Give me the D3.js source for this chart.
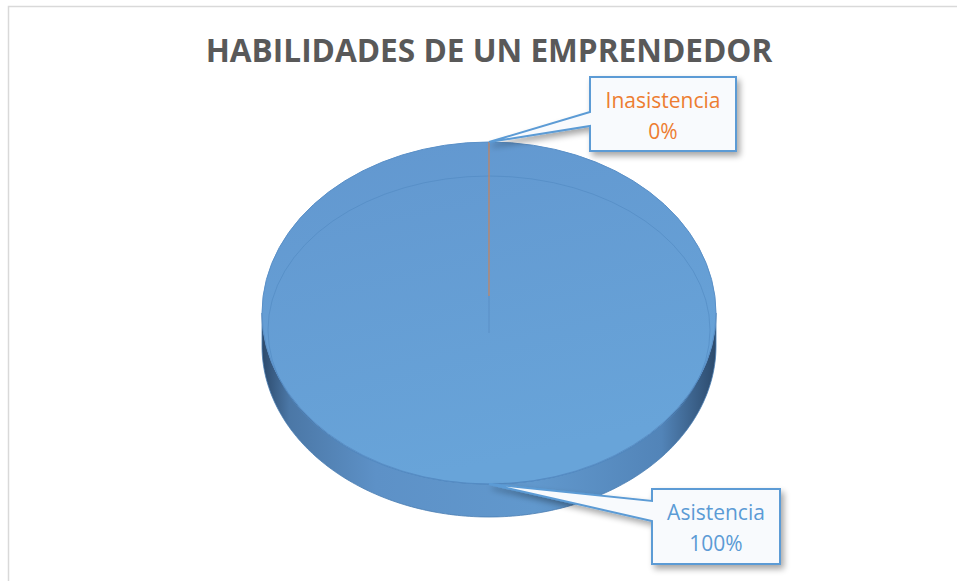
<!DOCTYPE html>
<html>
<head>
<meta charset="utf-8">
<script src="https://cdn.jsdelivr.net/npm/d3@7"></script>
<style>
  body { margin: 0; background: #fff; }
  svg { display: block; }
</style>
</head>
<body>
<div id="chart"></div>
<script>
// data
const categories = ["Asistencia", "Inasistencia"]
const values = [100, 0]
const percentLabels = ["100%", "0%"]
const chartTitle = "HABILIDADES DE UN EMPRENDEDOR"

const width = 957
const height = 581

// pie geometry (projected ellipse)
const cx = 489, cy = 313, rx = 227, ry = 171, depth = 33

var svg = d3.select("#chart")
  .append("svg")
  .attr("width", width)
  .attr("height", height)

var defs = svg.append("defs")

var topGrad = defs.append("linearGradient")
  .attr("id", "topGrad").attr("x1", 0).attr("y1", 0).attr("x2", 0.3).attr("y2", 1)
topGrad.append("stop").attr("offset", "0%").attr("stop-color", "#6297cf")
topGrad.append("stop").attr("offset", "100%").attr("stop-color", "#68a4d9")

var sideGrad = defs.append("linearGradient")
  .attr("id", "sideGrad").attr("gradientUnits", "userSpaceOnUse")
  .attr("x1", cx - rx).attr("y1", 0).attr("x2", cx + rx).attr("y2", 0)
sideGrad.append("stop").attr("offset", "0%").attr("stop-color", "#2c4a6c")
sideGrad.append("stop").attr("offset", "6%").attr("stop-color", "#4b77a6")
sideGrad.append("stop").attr("offset", "25%").attr("stop-color", "#5d91c7")
sideGrad.append("stop").attr("offset", "60%").attr("stop-color", "#6198cd")
sideGrad.append("stop").attr("offset", "88%").attr("stop-color", "#5284b8")
sideGrad.append("stop").attr("offset", "100%").attr("stop-color", "#2c4a6c")

var shadow = defs.append("filter").attr("id", "shadow")
  .attr("x", "-20%").attr("y", "-20%").attr("width", "150%").attr("height", "160%")
shadow.append("feGaussianBlur").attr("in", "SourceAlpha").attr("stdDeviation", 3)
shadow.append("feOffset").attr("dx", 3).attr("dy", 4).attr("result", "off")
shadow.append("feComponentTransfer").append("feFuncA").attr("type", "linear").attr("slope", 0.35)
var merge = shadow.append("feMerge")
merge.append("feMergeNode")
merge.append("feMergeNode").attr("in", "SourceGraphic")

// chart area border
svg.append("rect")
  .attr("x", 8.5).attr("y", 6.5)
  .attr("width", width).attr("height", height)
  .attr("fill", "#fff")
  .attr("stroke", "#d9d9d9")
  .attr("stroke-width", 1.5)

// title
var title = svg.append("text")
  .attr("x", cx).attr("y", 62)
  .attr("text-anchor", "middle")
  .attr("font-family", "'Open Sans', sans-serif")
  .attr("font-weight", "bold")
  .attr("font-size", 30)
  .attr("fill", "#595959")
  .text(chartTitle)
var tw = title.node().getComputedTextLength()
title.attr("font-size", 30 * 567 / tw)

// angle -> point on the projected ellipse
function pt(a, r = 1, dy = 0) {
  return [cx + rx * r * Math.sin(a), cy - ry * r * Math.cos(a) + dy]
}

var pie = d3.pie().sort(null).value(d => d)
var arcs = pie(values)

// side wall (front half)
var sidePts = d3.range(0, 181).map(i => pt(Math.PI * 1.5 - i * Math.PI / 180))
var sidePtsLow = sidePts.map(p => [p[0], p[1] + depth]).reverse()
svg.append("path")
  .attr("d", d3.line()(sidePts.concat(sidePtsLow)) + "Z")
  .attr("fill", "url(#sideGrad)")
  .attr("stroke", "#4a7db3")
  .attr("stroke-width", 0.8)

// top face slices
var topArc = a0 => a1 => {
  var n = Math.max(2, Math.ceil((a1 - a0) / 0.01))
  var pts = [[cx, cy]]
  for (var i = 0; i <= n; i++) pts.push(pt(a0 + (a1 - a0) * i / n))
  return d3.line()(pts) + "Z"
}
var sliceColors = ["url(#topGrad)", "#ed7d31"]
svg.selectAll(".slice")
  .data(arcs)
  .enter().append("path")
  .attr("class", "slice")
  .attr("d", d => topArc(d.startAngle)(d.endAngle))
  .attr("fill", (d, i) => sliceColors[i])
  .attr("stroke", "none")

// top outline
svg.append("ellipse")
  .attr("cx", cx).attr("cy", cy).attr("rx", rx).attr("ry", ry)
  .attr("fill", "none").attr("stroke", "#5a90c8").attr("stroke-width", 1)

// bevel line of top face
svg.append("ellipse")
  .attr("cx", cx).attr("cy", cy + 17).attr("rx", rx - 6).attr("ry", ry - 17)
  .attr("fill", "none").attr("stroke", "#4f86c0").attr("stroke-opacity", 0.55).attr("stroke-width", 1)

// zero slice edge line
svg.selectAll(".edge")
  .data(arcs.filter((d, i) => i === 1))
  .enter().append("line")
  .attr("class", "edge")
  .attr("x1", d => pt(d.startAngle)[0]).attr("y1", d => pt(d.startAngle)[1])
  .attr("x2", d => pt(d.startAngle, 0.1)[0]).attr("y2", d => pt(d.startAngle, 0.1)[1])
  .attr("stroke", "#c8835b").attr("stroke-width", 1.2)
svg.append("line")
  .attr("x1", cx).attr("y1", pt(0, 0.1)[1])
  .attr("x2", cx).attr("y2", cy + 20)
  .attr("stroke", "#5a8fc6").attr("stroke-width", 1)

// data label callouts
var labelBoxes = [
  { x: 652, y: 489, w: 128, h: 75, tail: [501, 521], color: "#5b9bd5" },
  { x: 590, y: 77, w: 146, h: 74, tail: [112, 126], color: "#ed7d31" }
]

arcs.forEach((d, i) => {
  var b = labelBoxes[i]
  var mid = (d.startAngle + d.endAngle) / 2
  var anchor = pt(mid)
  var g = svg.append("g").attr("filter", "url(#shadow)")
  var p = d3.path()
  p.moveTo(b.x, b.y)
  p.lineTo(b.x + b.w, b.y)
  p.lineTo(b.x + b.w, b.y + b.h)
  p.lineTo(b.x, b.y + b.h)
  p.lineTo(b.x, b.tail[1])
  p.lineTo(anchor[0], anchor[1])
  p.lineTo(b.x, b.tail[0])
  p.closePath()
  g.append("path")
    .attr("d", p.toString())
    .attr("fill", "#f8fafd")
    .attr("stroke", "#5b9bd5")
    .attr("stroke-width", 2)
    .attr("stroke-linejoin", "miter")
  var t = svg.append("text")
    .attr("text-anchor", "middle")
    .attr("font-family", "'Open Sans', sans-serif")
    .attr("font-size", 21)
    .attr("fill", b.color)
  t.append("tspan").attr("x", b.x + b.w / 2).attr("y", b.y + 31).text(categories[i])
  t.append("tspan").attr("x", b.x + b.w / 2).attr("y", b.y + 62).text(percentLabels[i])
})
</script>
</body>
</html>
